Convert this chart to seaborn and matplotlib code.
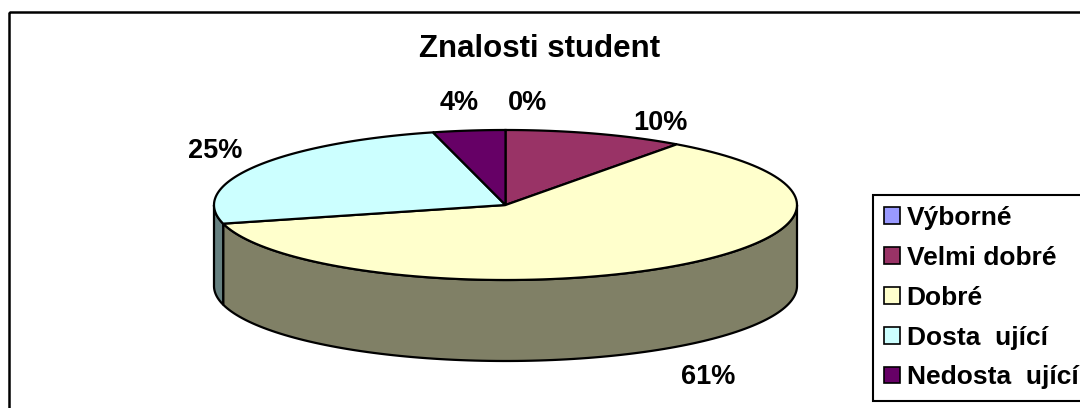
import numpy as np
import matplotlib.pyplot as plt
from matplotlib.patches import Polygon, Rectangle, Patch
import seaborn as sns

# Data
categories = ["Výborné", "Velmi dobré", "Dobré", "Dosta  ující", "Nedosta  ující"]
shares = [0, 10, 61, 25, 4]
pct_labels = ["0%", "10%", "61%", "25%", "4%"]
face_colors = ["#9999FF", "#993366", "#FFFFCC", "#CCFFFF", "#660066"]

sns.set_style("white")
plt.rcParams["font.family"] = ["Liberation Sans", "DejaVu Sans"]
plt.rcParams["text.color"] = "black"

# 3D pie layout, in pixel units of the 1080x408 figure
CX, CY, RX, RY, DEPTH = 505.5, 205, 291.5, 75, 81
LABEL_R = 1.25
label_nudge = [(22, -8), (42, 7), (-2, 13), (23, -6), (-1, -9)]

fig = plt.figure(figsize=(10.8, 4.08), dpi=100)
ax = fig.add_axes([0, 0, 1, 1])
ax.set_xlim(0, 1080)
ax.set_ylim(408, 0)
ax.axis("off")

palette = sns.color_palette(face_colors)
side_colors = [tuple(c * 0.5 for c in col) for col in palette]


def arc(a, b, r=1.0, dy=0.0):
    # angles clockwise from 12 o'clock, in degrees
    t = np.radians(np.linspace(a, b, 120))
    return np.column_stack([CX + r * RX * np.sin(t), CY - r * RY * np.cos(t) + dy])


bounds = np.concatenate([[0], np.cumsum(shares)]) * 360 / sum(shares)

# side walls (only the front half is visible)
for i in range(len(shares)):
    lo, hi = max(bounds[i], 90), min(bounds[i + 1], 270)
    if hi > lo:
        top = arc(lo, hi)
        bottom = arc(lo, hi, dy=DEPTH)[::-1]
        ax.add_patch(Polygon(np.vstack([top, bottom]), closed=True,
                             facecolor=side_colors[i], edgecolor="black",
                             lw=1.6, zorder=1))

# top faces
for i in range(len(shares)):
    if shares[i] == 0:
        continue
    pts = np.vstack([[CX, CY], arc(bounds[i], bounds[i + 1])])
    ax.add_patch(Polygon(pts, closed=True, facecolor=palette[i],
                         edgecolor="black", lw=1.6, zorder=2))

# percentage labels
for i, lab in enumerate(pct_labels):
    mid = (bounds[i] + bounds[i + 1]) / 2
    x, y = arc(mid, mid, r=LABEL_R)[0]
    if 90 < mid < 270:
        y += DEPTH
    ax.text(x + label_nudge[i][0], y + label_nudge[i][1], lab,
            ha="center", va="center", fontsize=19.5, fontweight="bold")

ax.text(540, 49, "Znalosti student", ha="center", va="center",
        fontsize=22.5, fontweight="bold")

# chart frame
ax.add_patch(Rectangle((9, 12), 1200, 500, fill=False, lw=1.8,
                       edgecolor="black", zorder=5))

handles = [Patch(facecolor=c, edgecolor="black", lw=1.2) for c in palette]
leg = ax.legend(handles, categories, loc="upper left",
                bbox_to_anchor=(873 / 1080, 1 - 195 / 408),
                bbox_transform=fig.transFigure, borderaxespad=0,
                frameon=True, fancybox=False, framealpha=1,
                edgecolor="black", prop=dict(weight="bold", size=19),
                handlelength=0.6, handleheight=0.6, handletextpad=0.25,
                labelspacing=0.6, borderpad=0.42)
leg.get_frame().set_linewidth(1.5)

fig.savefig("out.png", dpi=100)
